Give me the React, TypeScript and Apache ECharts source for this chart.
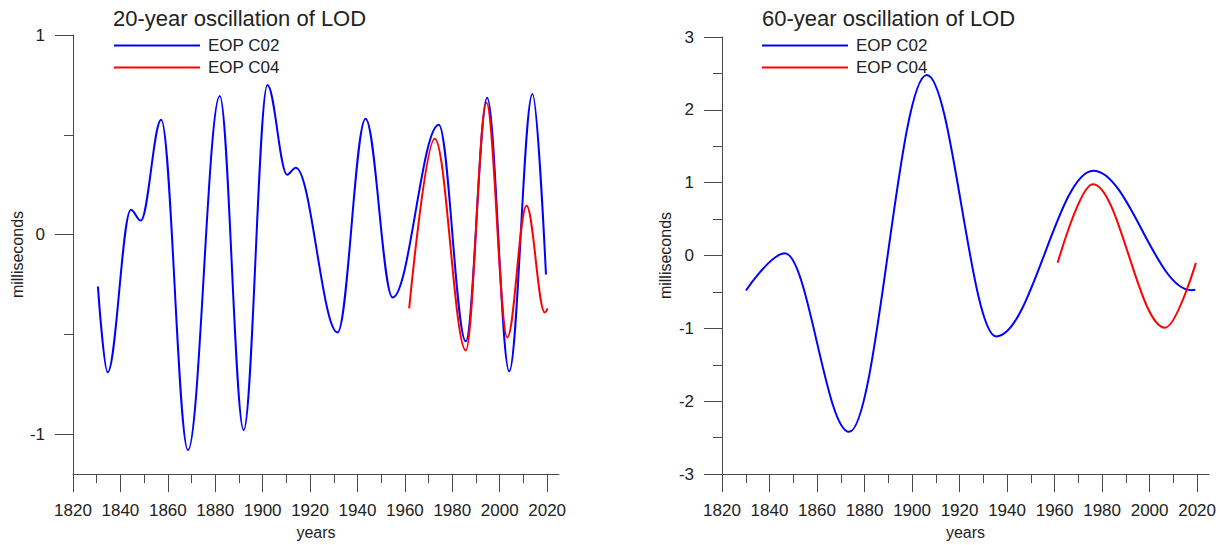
import React, { useEffect, useRef } from 'react';
import * as echarts from 'echarts';

// axis ticks
const yearTicks = [1820, 1840, 1860, 1880, 1900, 1920, 1940, 1960, 1980, 2000, 2020];
const yearMinorTicks = [1830, 1850, 1870, 1890, 1910, 1930, 1950, 1970, 1990, 2010];
const lod20Ticks = [-1, 0, 1];
const lod20MinorTicks = [-0.5, 0.5];
const lod60Ticks = [-3, -2, -1, 0, 1, 2, 3];
const lod60MinorTicks = [-2.5, -1.5, -0.5, 0.5, 1.5, 2.5];

// 20-year oscillation [year, ms] - turning points
const c02Osc20 = [
  [1830.5, -0.26], [1834.6, -0.69], [1844.4, 0.125], [1848.6, 0.07], [1857.2, 0.575],
  [1868.5, -1.08], [1881.9, 0.695], [1892.0, -0.98], [1902.0, 0.75], [1910.3, 0.3],
  [1914.0, 0.335], [1931.6, -0.49], [1943.4, 0.58], [1954.8, -0.315], [1974.3, 0.55],
  [1985.7, -0.535], [1994.7, 0.685], [2004.0, -0.685], [2013.8, 0.705], [2019.5, -0.2],
];
const c04Osc20 = [
  [1961.8, -0.37], [1972.6, 0.48], [1985.7, -0.58], [1994.4, 0.66], [2003.2, -0.515],
  [2011.3, 0.145], [2019.0, -0.39], [2020.2, -0.37],
];

// 60-year oscillation [year, ms]
const c02Osc60 = [
  [1830.1, -0.48], [1846.5, 0.03], [1873.5, -2.42], [1906.2, 2.48], [1935.4, -1.11],
  [1976.3, 1.165], [2017.5, -0.475], [2019.2, -0.47],
];
const c04Osc60 = [
  [1961.3, -0.1], [1976.1, 0.98], [2006.5, -0.99], [2019.5, -0.1],
];

const FONT = '"Liberation Sans", Arial, sans-serif';
const AXIS_COLOR = '#4a4a4a';
const TEXT_COLOR = '#222';
const BLUE = '#0000ff';
const RED = '#ff0000';

const tickLine = { color: AXIS_COLOR, width: 1 };
const labelText = { fontSize: 17, color: TEXT_COLOR, fontFamily: FONT };

function makeXAxes(gridIndex: number) {
  return [
    {
      type: 'value', gridIndex, position: 'bottom', min: 1820, max: 2025,
      name: 'years', nameLocation: 'middle', nameGap: 48,
      nameTextStyle: { fontSize: 16, color: TEXT_COLOR, fontFamily: FONT },
      axisLine: { onZero: false, lineStyle: tickLine },
      axisTick: { customValues: yearTicks, length: 18, lineStyle: tickLine },
      axisLabel: { customValues: yearTicks, margin: 28, formatter: (v: number) => String(v), ...labelText },
      splitLine: { show: false },
    },
    {
      type: 'value', gridIndex, position: 'bottom', min: 1820, max: 2025,
      axisLine: { show: false, onZero: false },
      axisTick: { customValues: yearMinorTicks, length: 9, lineStyle: tickLine },
      axisLabel: { show: false },
      splitLine: { show: false },
    },
  ];
}

function makeYAxes(gridIndex: number, min: number, max: number, major: number[], minor: number[], nameGap: number) {
  return [
    {
      type: 'value', gridIndex, position: 'left', min, max,
      name: 'milliseconds', nameLocation: 'middle', nameGap,
      nameTextStyle: { fontSize: 16, color: TEXT_COLOR, fontFamily: FONT },
      axisLine: { show: true, onZero: false, lineStyle: tickLine },
      axisTick: { show: true, customValues: major, length: 18, lineStyle: tickLine },
      axisLabel: { customValues: major, margin: 28, formatter: (v: number) => String(v), ...labelText },
      splitLine: { show: false },
    },
    {
      type: 'value', gridIndex, position: 'left', min, max,
      axisLine: { show: false, onZero: false },
      axisTick: { show: true, customValues: minor, length: 9, lineStyle: tickLine },
      axisLabel: { show: false },
      splitLine: { show: false },
    },
  ];
}

function lineSeries(name: string, data: number[][], color: string, axisIndex: number) {
  return {
    type: 'line', name, data,
    xAxisIndex: axisIndex, yAxisIndex: axisIndex,
    smooth: 0.36, smoothMonotone: 'x', showSymbol: false, symbol: 'none',
    lineStyle: { color, width: 2 },
    itemStyle: { color },
    silent: true,
  };
}

function makeLegend(left: number) {
  return {
    left, top: 37, orient: 'vertical', icon: 'rect',
    itemWidth: 86, itemHeight: 2, itemGap: 5,
    selectedMode: false, padding: 0,
    data: ['EOP C02', 'EOP C04'],
    textStyle: { fontSize: 17, color: TEXT_COLOR, fontFamily: FONT, padding: [0, 0, 0, 3] },
  };
}

export default function App() {
  const chartRef = useRef<HTMLDivElement>(null);

  useEffect(() => {
    document.body.style.margin = '0';
    if (!chartRef.current) return;
    const chart = echarts.init(chartRef.current, undefined, { renderer: 'svg' });

    const option = {
      animation: false,
      backgroundColor: '#fff',
      title: [
        { text: '20-year oscillation of LOD', left: 113, top: 7, padding: 0,
          textStyle: { fontSize: 22, fontWeight: 'normal', color: TEXT_COLOR, fontFamily: FONT } },
        { text: '60-year oscillation of LOD', left: 762, top: 7, padding: 0,
          textStyle: { fontSize: 22, fontWeight: 'normal', color: TEXT_COLOR, fontFamily: FONT } },
      ],
      legend: [makeLegend(114), makeLegend(762)],
      grid: [
        { left: 73, top: 35, width: 486, height: 442 },
        { left: 722, top: 37, width: 487, height: 441 },
      ],
      xAxis: [...makeXAxes(0), ...makeXAxes(1)],
      yAxis: [
        ...makeYAxes(0, -1.2, 1, lod20Ticks, lod20MinorTicks, 47),
        ...makeYAxes(1, -3, 3, lod60Ticks, lod60MinorTicks, 49),
      ],
      series: [
        lineSeries('EOP C02', c02Osc20, BLUE, 0),
        lineSeries('EOP C04', c04Osc20, RED, 0),
        lineSeries('EOP C02', c02Osc60, BLUE, 2),
        lineSeries('EOP C04', c04Osc60, RED, 2),
      ],
    } as any;

    chart.setOption(option);
    return () => {
      chart.dispose();
    };
  }, []);

  return <div ref={chartRef} style={{ width: 1220, height: 545 }} />;
}
